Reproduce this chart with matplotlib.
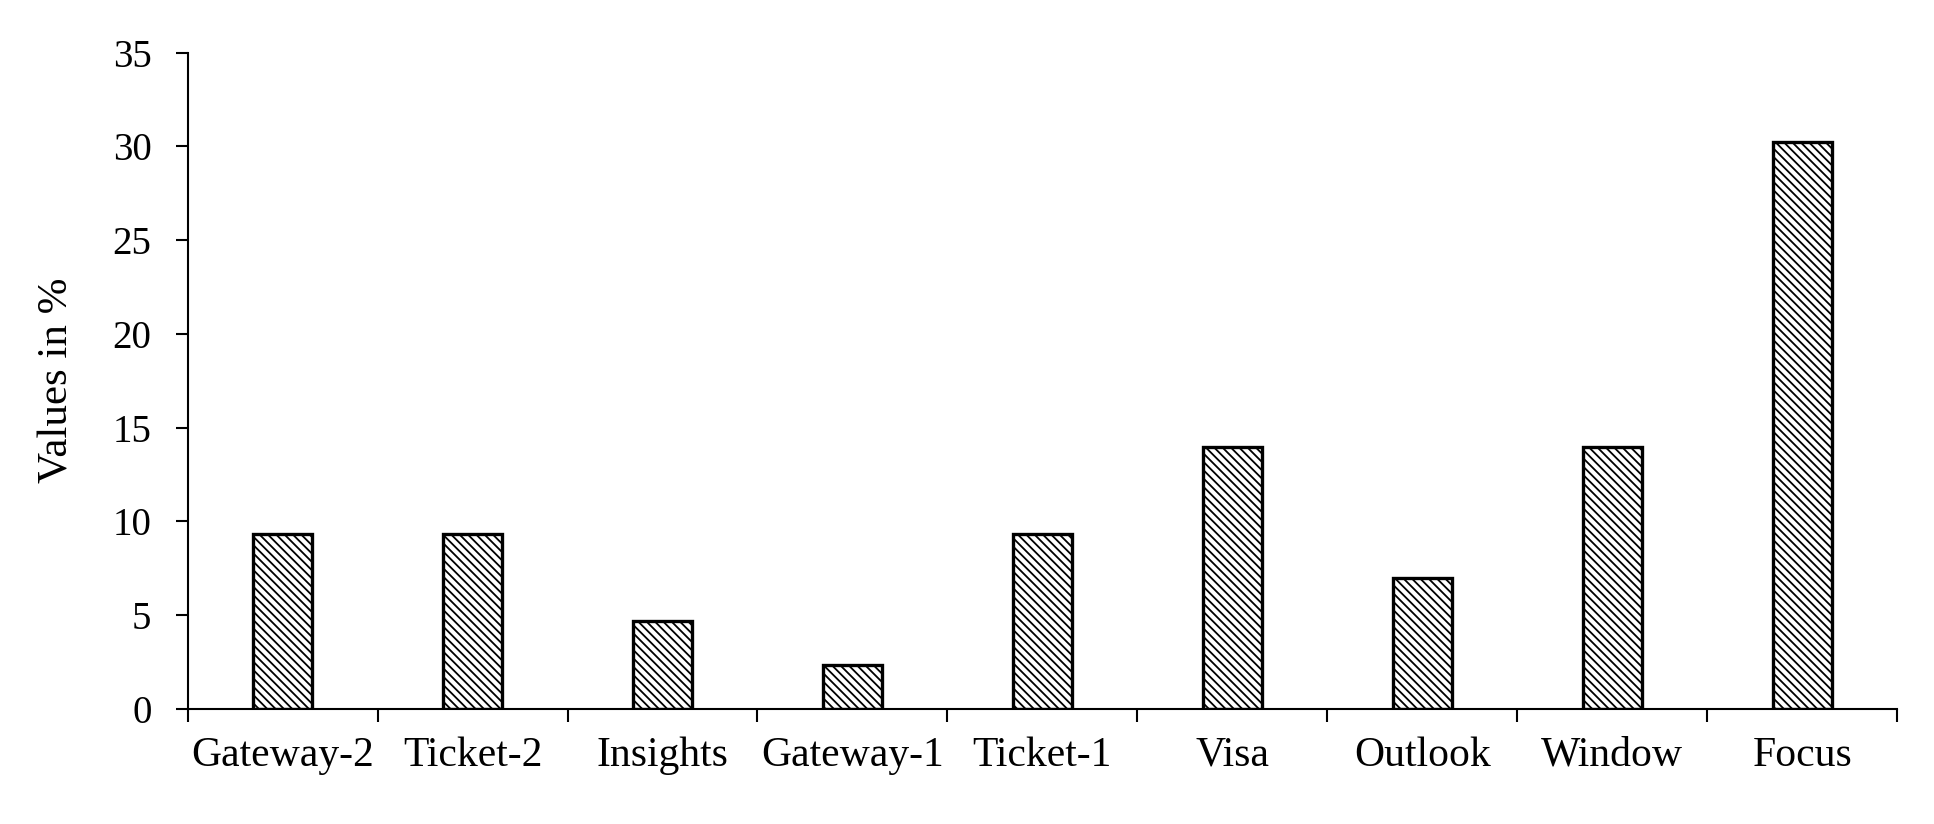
import matplotlib.pyplot as plt
import numpy as np

# categories and values (per cent)
categories = ['Gateway-2', 'Ticket-2', 'Insights', 'Gateway-1', 'Ticket-1',
              'Visa', 'Outlook', 'Window', 'Focus']
values = [9.3, 9.3, 4.65, 2.33, 9.3, 13.95, 6.98, 13.95, 30.23]

plt.rcParams['font.family'] = ['Liberation Serif', 'DejaVu Serif']
plt.rcParams['hatch.linewidth'] = 1.3

fig = plt.figure(figsize=(19.34, 8.24), dpi=100)
ax = fig.add_axes([0.097, 0.140, 0.884, 0.796])

x = np.arange(len(categories))
ax.bar(x, values, width=0.31, color='white', edgecolor='black',
       linewidth=2.4, hatch='\\\\\\\\')

ax.set_xlim(-0.5, len(categories) - 0.5)
ax.set_ylim(0, 35)
ax.set_yticks(np.arange(0, 36, 5))

# ticks at category boundaries, labels at centres
ax.set_xticks(np.arange(-0.5, len(categories), 1))
ax.set_xticklabels([])
ax.set_xticks(x, minor=True)
ax.set_xticklabels(categories, minor=True)
ax.tick_params(axis='x', which='major', direction='out', length=9, width=1.5)
ax.tick_params(axis='x', which='minor', length=0, pad=20, labelsize=30)
ax.tick_params(axis='y', direction='out', length=9, width=1.5, labelsize=28, pad=17)

for s in ['top', 'right']:
    ax.spines[s].set_visible(False)
for s in ['left', 'bottom']:
    ax.spines[s].set_linewidth(1.5)

ax.set_ylabel('Values in %', fontsize=31, labelpad=26)

fig.savefig('out.png', dpi=100)
